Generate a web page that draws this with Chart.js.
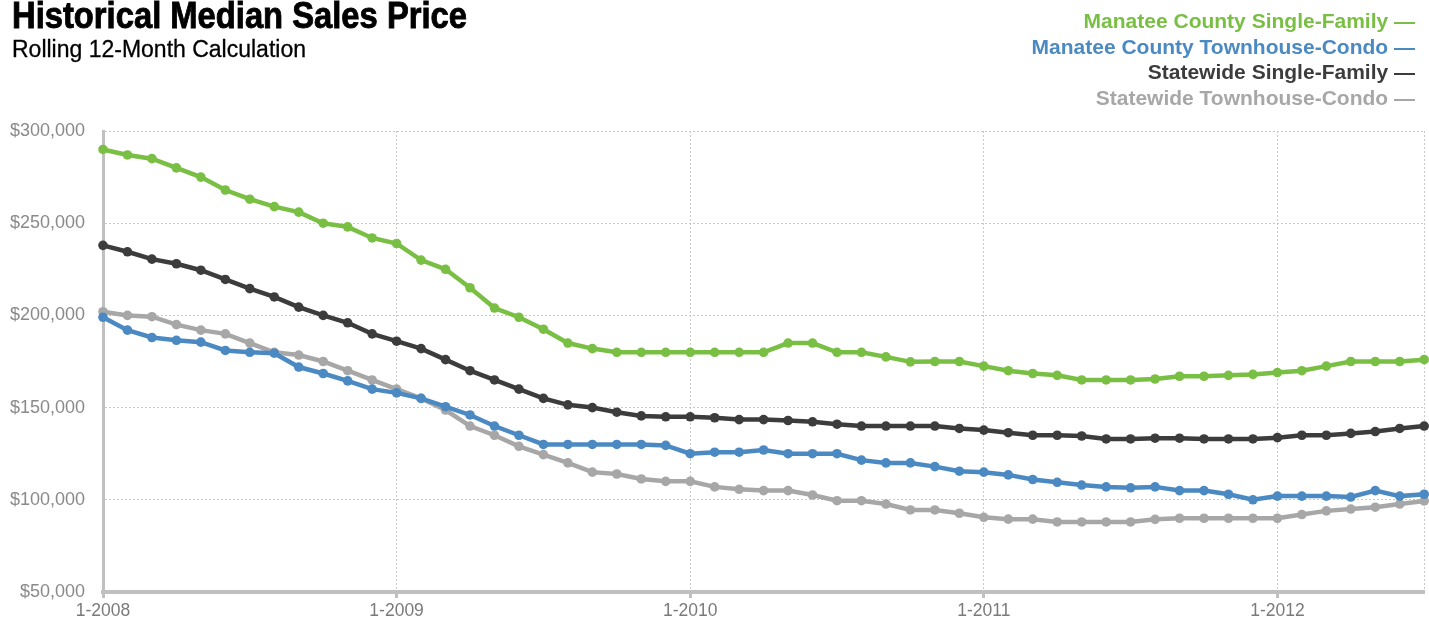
<!DOCTYPE html>
<html>
<head>
<meta charset="utf-8">
<script src="https://cdn.jsdelivr.net/npm/chart.js@4.4.1/dist/chart.umd.min.js"></script>
<style>
  html, body { margin: 0; padding: 0; background: #fff; width: 1429px; height: 623px; overflow: hidden; }
  #wrap { position: absolute; left: 0; top: 0; width: 1429px; height: 623px; }
  #title { position: absolute; left: 12px; top: -5px; font-family: "Liberation Sans", Arial, sans-serif; font-weight: bold; font-size: 37px; color: #000; white-space: nowrap; transform-origin: left top; -webkit-text-stroke: 0.9px #000; }
  #subtitle { position: absolute; left: 12px; top: 36px; font-family: "Liberation Sans", Arial, sans-serif; font-size: 23.5px; color: #000; white-space: nowrap; transform-origin: left top; -webkit-text-stroke: 0.3px #000; }
  #legend { position: absolute; right: 14px; top: 8px; text-align: right; font-family: "Liberation Sans", Arial, sans-serif; font-weight: bold; font-size: 21px; line-height: 25.5px; }
</style>
</head>
<body>
<div id="wrap">
  <canvas id="c" width="1429" height="623"></canvas>
  <div id="title">Historical Median Sales Price</div>
  <div id="subtitle">Rolling 12-Month Calculation</div>
  <div id="legend"></div>
</div>
<script>
const months = [
  "1-2008","2-2008","3-2008","4-2008","5-2008","6-2008","7-2008","8-2008","9-2008","10-2008","11-2008","12-2008",
  "1-2009","2-2009","3-2009","4-2009","5-2009","6-2009","7-2009","8-2009","9-2009","10-2009","11-2009","12-2009",
  "1-2010","2-2010","3-2010","4-2010","5-2010","6-2010","7-2010","8-2010","9-2010","10-2010","11-2010","12-2010",
  "1-2011","2-2011","3-2011","4-2011","5-2011","6-2011","7-2011","8-2011","9-2011","10-2011","11-2011","12-2011",
  "1-2012","2-2012","3-2012","4-2012","5-2012","6-2012","7-2012"
];
const yearTickLabels = ["1-2008","1-2009","1-2010","1-2011","1-2012"];

const manateeSingleFamily = [
  290000, 287000, 285000, 280000, 275000, 268000, 263000, 259000, 256000, 250000, 248000, 242000,
  239000, 230000, 225000, 215000, 204000, 199000, 192500, 185000, 182000, 180000, 180000, 180000,
  180000, 180000, 180000, 180000, 185000, 185000, 180000, 180000, 177500, 174800, 175000, 175000,
  172500, 170000, 168500, 167500, 165000, 165000, 165000, 165500, 167000, 167000, 167500, 168000,
  169000, 170000, 172500, 175000, 175000, 175000, 176000
];
const manateeTownhouseCondo = [
  199000, 192000, 188000, 186500, 185500, 181000, 180000, 179500, 172000, 168500, 164500, 160000,
  158000, 155000, 150500, 146000, 140000, 135000, 130000, 130000, 130000, 130000, 130000, 129500,
  125000, 125800, 125800, 127000, 125000, 125000, 125000, 121500, 120000, 120000, 118000, 115500,
  115000, 113500, 111000, 109500, 108000, 107000, 106500, 107000, 105000, 105000, 103000, 100000,
  102000, 102000, 102000, 101500, 105000, 102000, 103000
];
const statewideSingleFamily = [
  238000, 234500, 230500, 228000, 224500, 219500, 214500, 210000, 204500, 200000, 196000, 190000,
  186000, 182000, 176000, 170000, 165000, 160000, 155000, 151500, 150000, 147500, 145500, 145000,
  145000, 144500, 143500, 143500, 143000, 142300, 141000, 140000, 140000, 140000, 140000, 138700,
  137800, 136400, 135000, 135000, 134600, 133000, 133000, 133400, 133400, 133000, 133000, 133000,
  133700, 135000, 135000, 136000, 137000, 138700, 140000
];
const statewideTownhouseCondo = [
  202000, 200000, 199300, 195000, 192000, 190000, 185000, 180000, 178500, 175000, 170000, 165000,
  160000, 155000, 148700, 140000, 135000, 129000, 124500, 120000, 115000, 114000, 111300, 110000,
  110000, 107000, 105700, 105000, 105000, 102600, 99500, 99500, 97700, 94500, 94500, 92700,
  90500, 89500, 89500, 88000, 88000, 88000, 88000, 89400, 90000, 90000, 90000, 90000,
  90000, 92000, 94000, 95000, 96000, 97700, 99400
];

const seriesNames = [
  "Manatee County Single-Family",
  "Manatee County Townhouse-Condo",
  "Statewide Single-Family",
  "Statewide Townhouse-Condo"
];
const seriesColors = ["#79bf43", "#4b89c3", "#3c3c3c", "#a7a7a7"];
const seriesValues = [manateeSingleFamily, manateeTownhouseCondo, statewideSingleFamily, statewideTownhouseCondo];

const legendEl = document.getElementById('legend');
seriesNames.forEach((n, i) => {
  const d = document.createElement('div');
  d.style.color = seriesColors[i];
  d.textContent = n + ' \u2014';
  legendEl.appendChild(d);
});

function fitWidth(id, target) {
  const el = document.getElementById(id);
  const w = el.getBoundingClientRect().width;
  if (w > 0) el.style.transform = 'scaleX(' + (target / w) + ')';
}
fitWidth('title', 455);
fitWidth('subtitle', 294);

const lastIndex = months.length - 1;
const isYearTick = (i) => yearTickLabels.includes(months[i]);

new Chart(document.getElementById('c'), {
  type: 'line',
  data: {
    labels: months,
    datasets: seriesValues.map((vals, i) => ({
      label: seriesNames[i],
      data: vals,
      borderColor: seriesColors[i],
      backgroundColor: seriesColors[i],
      borderWidth: 4.5,
      pointRadius: 4.8,
      pointBorderWidth: 0,
      pointHoverRadius: 4.8,
      tension: 0,
      clip: false,
      fill: false
    }))
  },
  options: {
    responsive: false,
    animation: false,
    devicePixelRatio: 1,
    events: [],
    layout: { padding: { top: 131, right: 4, left: 0, bottom: 0 } },
    plugins: { legend: { display: false }, tooltip: { enabled: false }, title: { display: false } },
    scales: {
      x: {
        type: 'category',
        offset: false,
        afterFit: (s) => { s.height = 31; },
        border: { display: true, color: '#c0c0c0', width: 4, dash: [2, 2] },
        grid: {
          drawOnChartArea: true,
          color: (ctx) => (ctx.index !== undefined && (isYearTick(ctx.index) || ctx.index === lastIndex)) ? '#c9c9c9' : 'rgba(0,0,0,0)',
          lineWidth: 1,
          tickColor: (ctx) => (ctx.index !== undefined && isYearTick(ctx.index)) ? '#c0c0c0' : 'rgba(0,0,0,0)',
          tickLength: 6,
          tickWidth: 3
        },
        ticks: {
          autoSkip: false,
          maxRotation: 0,
          minRotation: 0,
          padding: 3,
          color: '#7a7a7a',
          font: { family: '"Liberation Sans", Arial, sans-serif', size: 17.5 },
          callback: function (v, i) { return isYearTick(i) ? months[i] : ''; }
        }
      },
      y: {
        min: 50000,
        max: 300000,
        afterFit: (s) => { s.width = 103; },
        border: { display: true, color: '#c0c0c0', width: 3, dash: [2, 2] },
        grid: { color: '#c9c9c9', lineWidth: 1, drawTicks: false },
        ticks: {
          stepSize: 50000,
          padding: 18,
          color: '#8a8a8a',
          font: { family: '"Liberation Sans", Arial, sans-serif', size: 18 },
          callback: (v) => '$' + Number(v).toLocaleString('en-US')
        }
      }
    }
  }
});
</script>
</body>
</html>
